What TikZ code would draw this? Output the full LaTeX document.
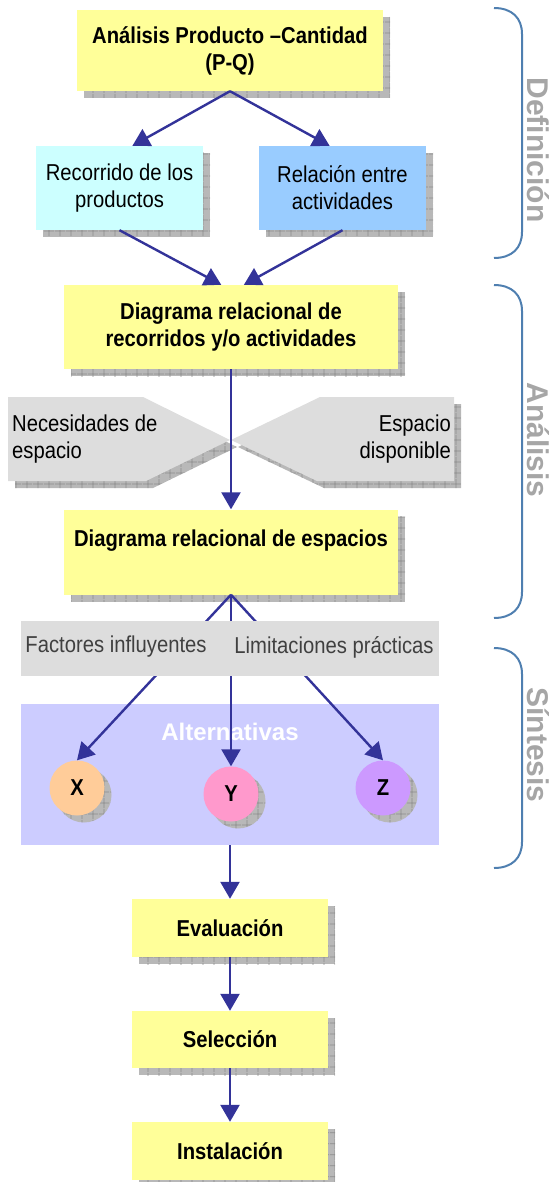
\documentclass[tikz,border=0pt]{standalone}
\usepackage{fontspec}
\setmainfont{Liberation Sans}
\newfontfamily\narrowsf[FakeStretch=0.88]{Liberation Sans}
\usepackage{xcolor}
\definecolor{procyellow}{HTML}{FFFF99}
\definecolor{pathcyan}{HTML}{CCFFFF}
\definecolor{relblue}{HTML}{99CCFF}
\definecolor{spacegray}{HTML}{DDDDDD}
\definecolor{altlilac}{HTML}{CCCCFF}
\definecolor{arrowblue}{HTML}{333399}
\definecolor{shadegray}{HTML}{B8B8B8}
\definecolor{shadeline}{HTML}{8C8C8C}
\definecolor{bracesteel}{HTML}{4F7FB0}
\definecolor{phasegray}{HTML}{A6A6A6}
\definecolor{altx}{HTML}{FFCC99}
\definecolor{alty}{HTML}{FF99CC}
\definecolor{altz}{HTML}{CC99FF}
\usetikzlibrary{arrows.meta,patterns.meta}
\newcommand{\boxfont}{\narrowsf\fontsize{23}{27}\selectfont}
\tikzdeclarepattern{
  name=shadegrid,
  type=uncolored,
  bounding box={(0pt,0pt) and (11pt,11pt)},
  tile size={(11pt,11pt)},
  code={\draw[line width=0.8pt] (0pt,5.5pt) -- (11pt,5.5pt) (5.5pt,0pt) -- (5.5pt,11pt);}
}
\tikzset{
  shadowed/.style={
    preaction={fill=shadegray,transform canvas={xshift=7pt,yshift=-7pt}},
    preaction={pattern=shadegrid,pattern color=shadeline,transform canvas={xshift=7pt,yshift=-7pt}}},
  procbox/.style={shadowed,fill=procyellow,align=center,inner sep=0pt,font=\boxfont\bfseries},
  inputbox/.style={shadowed,align=center,inner sep=0pt,minimum width=167pt,minimum height=84pt,font=\boxfont},
  altnode/.style={shadowed,circle,minimum size=55pt,inner sep=0pt,font=\boxfont\bfseries},
  flowarrow/.style={-{Triangle[length=17pt,width=19pt]},line width=2.4pt,arrowblue},
  phasebrace/.style={draw=bracesteel,line width=2pt},
  phaselabel/.style={text=phasegray,rotate=-90,font=\fontsize{30}{30}\selectfont\bfseries}
}
\begin{document}
\begin{tikzpicture}[x=1pt,y=-1pt]
\useasboundingbox (0,0) rectangle (553,1182);
% definicion
\node[procbox,minimum width=306pt,minimum height=81pt] (pq) at (230,50.5) {Análisis Producto –Cantidad\\(P-Q)};
\node[inputbox,fill=pathcyan] (rec) at (119.5,188) {Recorrido de los\\productos};
\node[inputbox,fill=relblue] (rel) at (342.5,188) {Relación entre\\actividades};
\node[procbox,minimum width=334pt,minimum height=84pt] (drr) at (231,327) {Diagrama relacional de\\recorridos y/o actividades};
\draw[flowarrow] (pq.south)--(rec.73);
\draw[flowarrow] (pq.south)--(rel.107);
\draw[flowarrow] (rec.south)--(drr.103);
\draw[flowarrow] (rel.south)--(drr.73);
% analisis
\path[shadowed,fill=spacegray] (8,397)--(143,397)--(230,440)--(146,481)--(8,481)--cycle;
\path[shadowed,fill=spacegray] (454,397)--(320,397)--(231,440)--(317,481)--(454,481)--cycle;
\node[anchor=west,align=left,inner sep=0pt,font=\boxfont] (nec) at (12,439) {Necesidades de\\espacio};
\node[anchor=east,align=right,inner sep=0pt,font=\boxfont] (esp) at (451,439) {Espacio\\disponible};
\node[procbox,minimum width=334pt,minimum height=85pt] (spc) at (231,552) {Diagrama relacional de espacios\\~};
\draw[flowarrow] (drr.south)--(spc.north);
% sintesis
\node[fill=altlilac,minimum width=418pt,minimum height=141pt,inner sep=0pt] (alt) at (230,774.5) {};
\node[text=white,font=\fontsize{24}{24}\selectfont\bfseries] (altlabel) at (230,732) {Alternativas};
\node[altnode,fill=altx] (x) at (77,788) {X};
\node[altnode,fill=alty] (y) at (231,794) {Y};
\node[altnode,fill=altz] (z) at (383,788) {Z};
\draw[flowarrow] (spc.south)--(x.north);
\draw[flowarrow] (spc.south)--(y.north);
\draw[flowarrow] (spc.south)--(z.north);
\node[fill=spacegray,minimum width=418pt,minimum height=55pt,inner sep=0pt] (fac) at (230,648.5) {};
\node[text=black!75,font=\boxfont] (infl) at (116,647) {Factores influyentes};
\node[text=black!75,font=\boxfont] (lim) at (334,647) {Limitaciones prácticas};
% evaluacion y seleccion
\node[procbox,minimum width=196pt,minimum height=58pt] (eva) at (230,928) {Evaluación};
\node[procbox,minimum width=196pt,minimum height=57pt] (sel) at (230,1039.5) {Selección};
\node[procbox,minimum width=196pt,minimum height=58pt] (ins) at (230,1151) {Instalación};
\draw[flowarrow] (alt.south -| eva.north)--(eva.north);
\draw[flowarrow] (eva.south)--(sel.north);
\draw[flowarrow] (sel.south)--(ins.north);
% fases
\draw[phasebrace] (494,8) .. controls (512,8) and (522,18) .. (522,34) -- (522,232) .. controls (522,248) and (512,258) .. (494,258);
\draw[phasebrace] (494,285) .. controls (512,285) and (522,295) .. (522,311) -- (522,592) .. controls (522,608) and (512,618) .. (494,618);
\draw[phasebrace] (494,648) .. controls (512,648) and (522,658) .. (522,674) -- (522,842) .. controls (522,858) and (512,868) .. (494,868);
\node[phaselabel] (def) at (538,150) {Definición};
\node[phaselabel] (ana) at (538,440) {Análisis};
\node[phaselabel] (sin) at (538,745) {Síntesis};
\end{tikzpicture}
\end{document}
